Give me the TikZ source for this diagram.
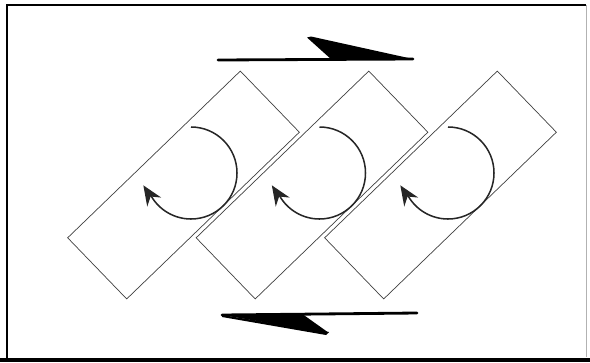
\documentclass[tikz,border=0pt]{standalone}
\usetikzlibrary{arrows.meta}

\begin{document}
\begin{tikzpicture}[
    x=0.03cm, y=-0.03cm,
    block/.style={
        draw=black!75, line width=0.6pt,
        minimum width=7.2cm, minimum height=2.55cm,
        rotate=44, inner sep=0pt
    },
    spin/.style={line width=1.3pt, black!85},
    head/.style={fill=black!85},
    shaft/.style={line width=2.4pt, line cap=round},
]
\useasboundingbox (0,0) rectangle (590,362);

% Frame (heavy bottom edge)
\draw[line width=1.6pt] (7,358) -- (7,5) -- (586,5);
\draw[black!30, line width=0.5pt] (586,5) -- (586,357);
\fill (0,357.5) rectangle (590,362);

% Tilted blocks, left to right
\node[block] (blockA) at (183.5,185) {};
\node[block] (blockB) at (312,185) {};
\node[block] (blockC) at (440.5,185) {};

% Rotation arrows inside the blocks
\foreach \b in {blockA, blockB, blockC} {
    \coordinate (\b-c) at ([xshift=0.225cm, yshift=0.36cm]\b.center);
    \coordinate (\b-tip) at ([shift={(-1.43cm,-0.37cm)}]\b-c);
    \draw[spin] ([shift={(90:1.38cm)}]\b-c) arc[start angle=90, end angle=-150, radius=1.38cm];
    \fill[head, shift={(\b-tip)}, rotate=123]
        (0,0) -- (-0.6cm,0.25cm) -- (-0.4cm,0) -- (-0.6cm,-0.25cm) -- cycle;
}

% Shear arrow on top, pointing right
\coordinate (topL) at (218,60);
\coordinate (topR) at (413,59);
\draw[shaft] (topL) -- (topR);
\fill[line join=round] (307,37.5) -- (311,36.5) -- (topR) -- (332,60) -- cycle;

% Shear arrow at the bottom, pointing left
\coordinate (botL) at (222,315);
\coordinate (botR) at (417,313);
\draw[shaft] (botL) -- (botR);
\fill[line join=round] (botL) -- (329,332) -- (326,335) -- (222,317) -- cycle;
\fill (botL) -- (303,314.5) -- (329,333) -- cycle;

\end{tikzpicture}
\end{document}
